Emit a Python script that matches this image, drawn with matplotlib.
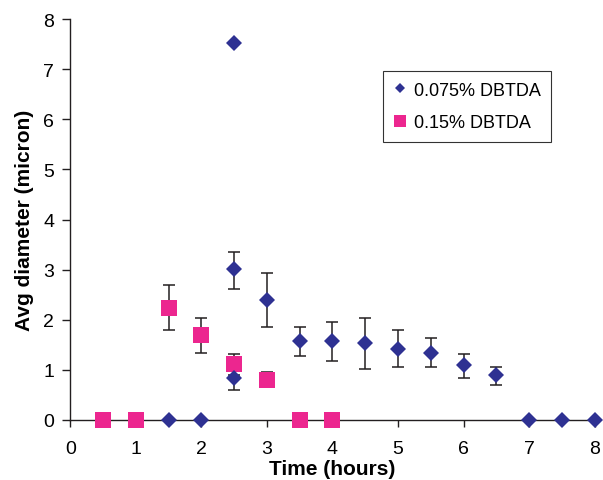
import numpy as np
import matplotlib.pyplot as plt
from matplotlib.lines import Line2D

plt.rcParams['font.family'] = ['Liberation Sans', 'DejaVu Sans']

# 0.075% DBTDA series
t_a = [1.5, 2, 2.5, 2.5, 2.5, 3, 3.5, 4, 4.5, 5, 5.5, 6, 6.5, 7, 7.5, 8]
d_a = [0, 0, 7.52, 3.01, 0.83, 2.40, 1.57, 1.57, 1.54, 1.41, 1.34, 1.09, 0.89, 0, 0, 0]
lo_a = [0, 0, 0, 0.39, 0.23, 0.54, 0.29, 0.39, 0.52, 0.35, 0.28, 0.26, 0.19, 0, 0, 0]
hi_a = [0, 0, 0, 0.35, 0.23, 0.54, 0.29, 0.39, 0.50, 0.38, 0.29, 0.22, 0.17, 0, 0, 0]

# 0.15% DBTDA series
t_b = [0.5, 1, 1.5, 2, 2.5, 3, 3.5, 4]
d_b = [0, 0, 2.23, 1.69, 1.11, 0.79, 0, 0]
lo_b = [0, 0, 0.44, 0.35, 0.21, 0.1, 0, 0]
hi_b = [0, 0, 0.46, 0.35, 0.21, 0.17, 0, 0]

blue = '#2E3192'
pink = '#EC268F'
axcol = '#231F20'

fig = plt.figure(figsize=(6.03, 4.81), dpi=100)
ax = fig.add_axes([0.1166, 0.125, 0.8695, 0.833])

def draw(t, d, lo, hi, marker, ms, color):
    t, d, lo, hi = map(np.array, (t, d, lo, hi))
    m = (lo + hi) > 0
    ax.errorbar(t[m], d[m], yerr=[lo[m], hi[m]], fmt='none', ecolor=axcol,
                elinewidth=1.1, capsize=4.3, capthick=1.1, zorder=3)
    ax.plot(t, d, linestyle='none', marker=marker, ms=ms, color=color,
            markeredgewidth=0, clip_on=False, zorder=4)

draw(t_b, d_b, lo_b, hi_b, 's', 11, pink)
draw(t_a, d_a, lo_a, hi_a, 'D', 7.8, blue)

ax.set_xlim(0, 8)
ax.set_ylim(0, 8)
ax.set_xticks(range(0, 9))
ax.set_yticks(range(0, 9))
for s in ['top', 'right']:
    ax.spines[s].set_visible(False)
for s in ['left', 'bottom']:
    ax.spines[s].set_color(axcol)
    ax.spines[s].set_linewidth(1.0)
    ax.spines[s].set_zorder(2)
ax.tick_params(axis='y', direction='out', length=5.5, width=1.0, pad=6,
               labelsize=14, color=axcol)
ax.tick_params(axis='x', direction='out', length=5, width=1.0, pad=9.5,
               labelsize=14, color=axcol)

ax.set_xlabel('Time (hours)', fontsize=15, fontweight='bold', labelpad=1.5)
ax.set_ylabel('Avg diameter (micron)', fontsize=15, fontweight='bold', labelpad=7)

handles = [Line2D([], [], linestyle='none', marker='D', ms=5.6, color=blue, markeredgewidth=0),
           Line2D([], [], linestyle='none', marker='s', ms=8.5, color=pink, markeredgewidth=0)]
leg = fig.legend(handles, ['0.075% DBTDA', '0.15% DBTDA'], loc='upper left',
                 bbox_to_anchor=(0.635, 0.851), fontsize=13, frameon=True,
                 fancybox=False, edgecolor='black', handlelength=0.7,
                 handletextpad=0.4, labelspacing=0.85, borderpad=0.6,
                 borderaxespad=0)
leg.get_frame().set_linewidth(0.8)

fig.savefig('out.png', dpi=100)
